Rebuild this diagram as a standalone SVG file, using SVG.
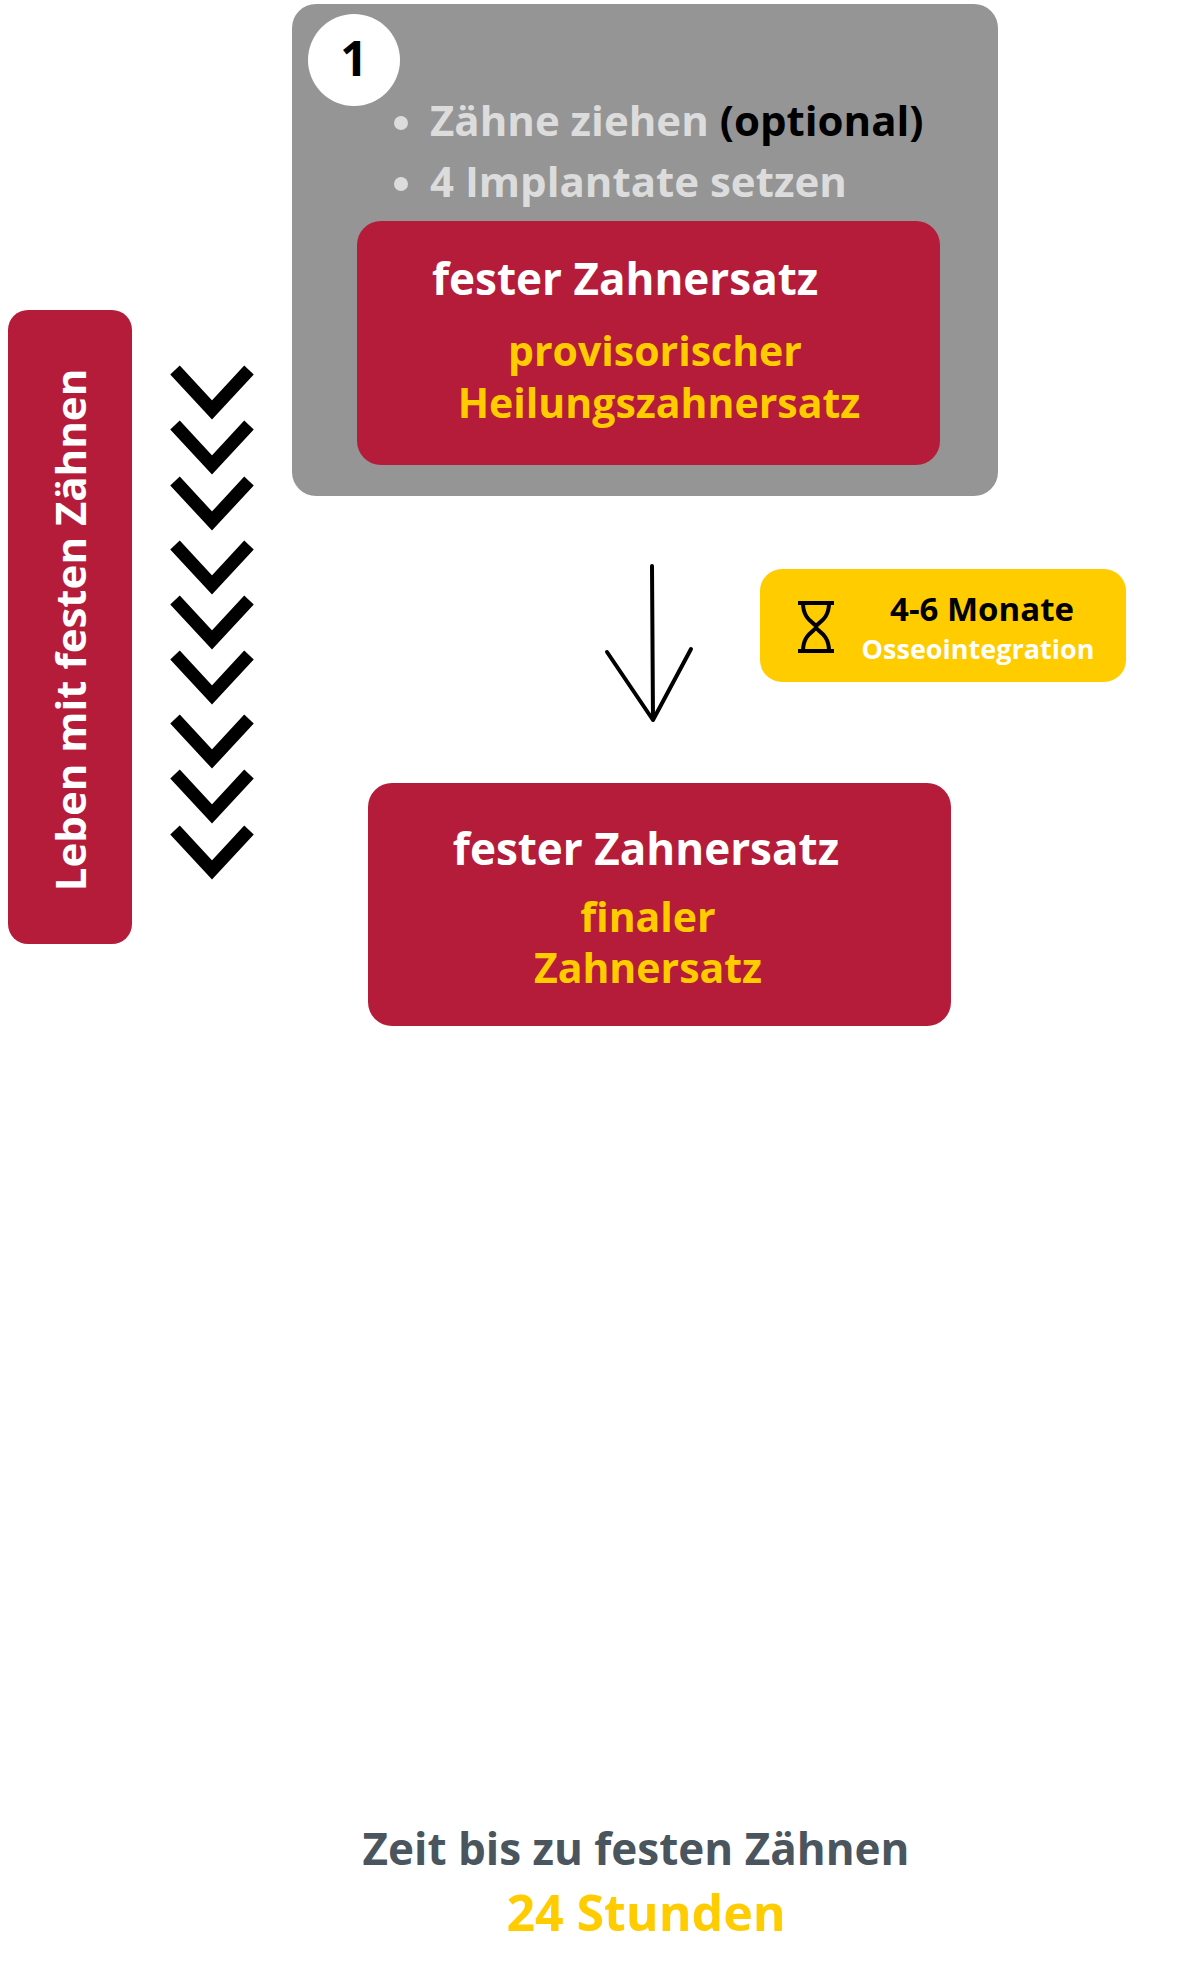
<svg xmlns="http://www.w3.org/2000/svg" width="1200" height="1986" viewBox="0 0 1200 1986">
<style>
text{font-family:"Open Sans","Noto Sans",sans-serif;font-weight:bold}
.red{fill:#B51C3A}
.w{fill:#fff}.y{fill:#FFCC00}.g{fill:#DCDCDC}
.chev{fill:none;stroke:#000;stroke-width:13}
</style>
<rect width="1200" height="1986" fill="#fff"/>
<g id="step1">
<rect x="292" y="4" width="706" height="492" rx="24" fill="#959595"/>
<circle cx="354" cy="60" r="46" fill="#fff"/>
<text x="354" y="76" font-size="48" text-anchor="middle" fill="#000">1</text>
<circle cx="401" cy="123" r="7" class="g"/>
<circle cx="401" cy="184" r="7" class="g"/>
<text x="430" y="136" font-size="42"><tspan class="g">Zähne ziehen </tspan><tspan fill="#000">(optional)</tspan></text>
<text x="430" y="197" font-size="42" class="g">4 Implantate setzen</text>
</g>
<g id="provisional">
<rect x="357" y="221" width="583" height="244" rx="24" class="red"/>
<text x="432" y="295" font-size="44" class="w">fester Zahnersatz</text>
<text x="655" y="366" font-size="41" text-anchor="middle" class="y">provisorischer</text>
<text x="659" y="418" font-size="41" text-anchor="middle" class="y">Heilungszahnersatz</text>
</g>
<g id="life">
<rect x="8" y="310" width="124" height="634" rx="20" class="red"/>
<text transform="translate(86,630) rotate(-90)" font-size="42" text-anchor="middle" class="w">Leben mit festen Zähnen</text>
</g>
<g id="chevrons">
<path class="chev" d="M175,370 L212,410 L249,370 M175,425 L212,465 L249,425 M175,481 L212,521 L249,481 M175,545 L212,585 L249,545 M175,600 L212,640 L249,600 M175,655 L212,695 L249,655 M175,719 L212,759 L249,719 M175,774 L212,814 L249,774 M175,830 L212,870 L249,830"/>
</g>
<g id="duration">
<rect x="760" y="569" width="366" height="113" rx="22" class="y"/>
<path d="M798,603 H834 M798,651 H834 M803,603 C803,621 816,623 816,627 C816,631 803,633 803,651 M829,603 C829,621 816,623 816,627 C816,631 829,633 829,651" fill="none" stroke="#000" stroke-width="4"/>
<text x="982" y="621" font-size="33" text-anchor="middle" fill="#000">4-6 Monate</text>
<text x="978" y="659" font-size="27" text-anchor="middle" class="w">Osseointegration</text>
</g>
<g id="final">
<rect x="368" y="783" width="583" height="243" rx="24" class="red"/>
<text x="646" y="865" font-size="44" text-anchor="middle" class="w">fester Zahnersatz</text>
<text x="648" y="932" font-size="41" text-anchor="middle" class="y">finaler</text>
<text x="648" y="983" font-size="41" text-anchor="middle" class="y">Zahnersatz</text>
</g>
<g id="connectors">
<path d="M652,566 L653,720 M607,652 L653,720 L691,649" fill="none" stroke="#000" stroke-width="4" stroke-linecap="round" stroke-linejoin="round"/>
</g>
<g id="summary">
<text x="636" y="1865" font-size="44" text-anchor="middle" fill="#4A555E">Zeit bis zu festen Zähnen</text>
<text x="646" y="1931" font-size="50" text-anchor="middle" class="y">24 Stunden</text>
</g>
</svg>
